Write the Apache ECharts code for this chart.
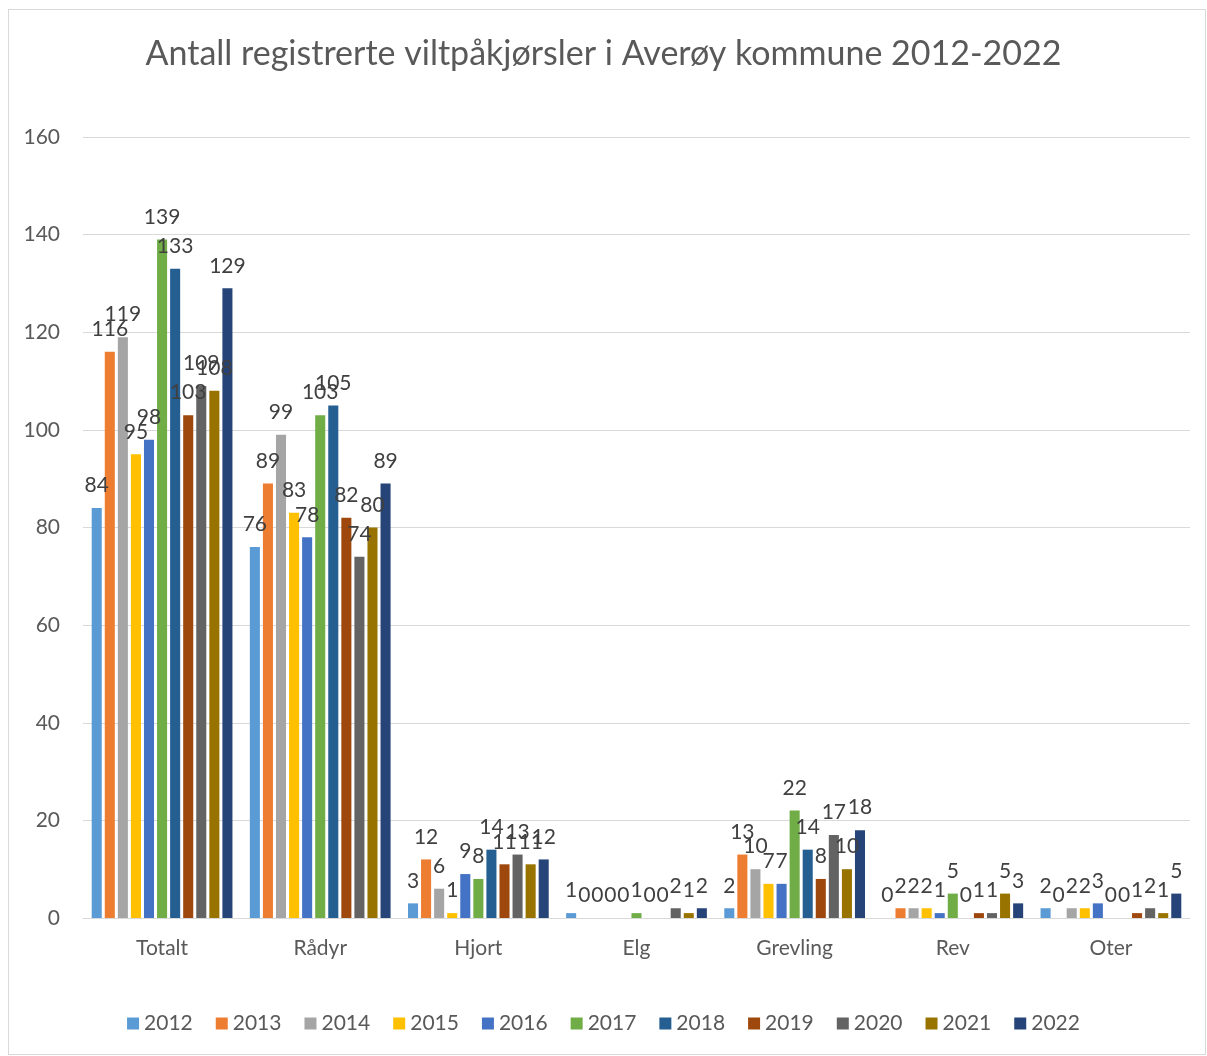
<!DOCTYPE html>
<html>
<head>
<meta charset="utf-8">
<script src="https://cdn.jsdelivr.net/npm/echarts@6/dist/echarts.min.js"></script>
<style>
  html, body { margin: 0; padding: 0; background: #fff; }
  #frame { position: absolute; left: 8px; top: 9px; width: 1198px; height: 1046px; border: 1px solid #d9d9d9; box-sizing: border-box; }
  #chart { position: absolute; left: 0; top: 0; width: 1207px; height: 1056px; }
</style>
</head>
<body>
<div id="frame"></div>
<div id="chart"></div>
<script>
var categories = ['Totalt', 'Rådyr', 'Hjort', 'Elg', 'Grevling', 'Rev', 'Oter'];
var years = ['2012', '2013', '2014', '2015', '2016', '2017', '2018', '2019', '2020', '2021', '2022'];
// verdier per år, i samme rekkefølge som categories
var v2012 = [84, 76, 3, 1, 2, 0, 2];
var v2013 = [116, 89, 12, 0, 13, 2, 0];
var v2014 = [119, 99, 6, 0, 10, 2, 2];
var v2015 = [95, 83, 1, 0, 7, 2, 2];
var v2016 = [98, 78, 9, 0, 7, 1, 3];
var v2017 = [139, 103, 8, 1, 22, 5, 0];
var v2018 = [133, 105, 14, 0, 14, 0, 0];
var v2019 = [103, 82, 11, 0, 8, 1, 1];
var v2020 = [109, 74, 13, 2, 17, 1, 2];
var v2021 = [108, 80, 11, 1, 10, 5, 1];
var v2022 = [129, 89, 12, 2, 18, 3, 5];
var values = [v2012, v2013, v2014, v2015, v2016, v2017, v2018, v2019, v2020, v2021, v2022];
var colors = ['#5B9BD5', '#ED7D31', '#A5A5A5', '#FFC000', '#4472C4', '#70AD47',
              '#255E91', '#9E480E', '#636363', '#997300', '#264478'];

var font = 'Lato, "Open Sans", sans-serif';

var series = years.map(function (y, i) {
    return {
        name: y,
        type: 'bar',
        data: values[i],
        barGap: '30%',
        barCategoryGap: '11%',
        itemStyle: { color: colors[i] },
        label: {
            show: true,
            position: 'top',
            distance: 12,
            color: '#404040',
            fontSize: 21,
            fontFamily: font
        }
    };
});

var myChart = echarts.init(document.getElementById('chart'));
myChart.setOption({
    animation: false,
    color: colors,
    title: {
        text: 'Antall registrerte viltpåkjørsler i Averøy kommune 2012-2022',
        left: 'center',
        top: 32,
        textStyle: { color: '#595959', fontSize: 34, fontWeight: 'normal', fontFamily: font }
    },
    legend: {
        data: years,
        bottom: 17,
        left: 'center',
        itemWidth: 12,
        itemHeight: 12,
        itemGap: 23,
        icon: 'rect',
        textStyle: { color: '#595959', fontSize: 21, fontFamily: font }
    },
    grid: { left: 83, right: 17, top: 137, bottom: 138, containLabel: false },
    xAxis: {
        type: 'category',
        data: categories,
        axisLine: { lineStyle: { color: '#d9d9d9', width: 1 } },
        axisTick: { show: false },
        axisLabel: { color: '#595959', fontSize: 21, fontFamily: font, margin: 20 }
    },
    yAxis: {
        type: 'value',
        min: 0,
        max: 160,
        interval: 20,
        axisLine: { show: false },
        axisTick: { show: false },
        splitLine: { lineStyle: { color: '#d9d9d9', width: 1 } },
        axisLabel: { color: '#595959', fontSize: 21, fontFamily: font, margin: 23 }
    },
    series: series
});
</script>
</body>
</html>
